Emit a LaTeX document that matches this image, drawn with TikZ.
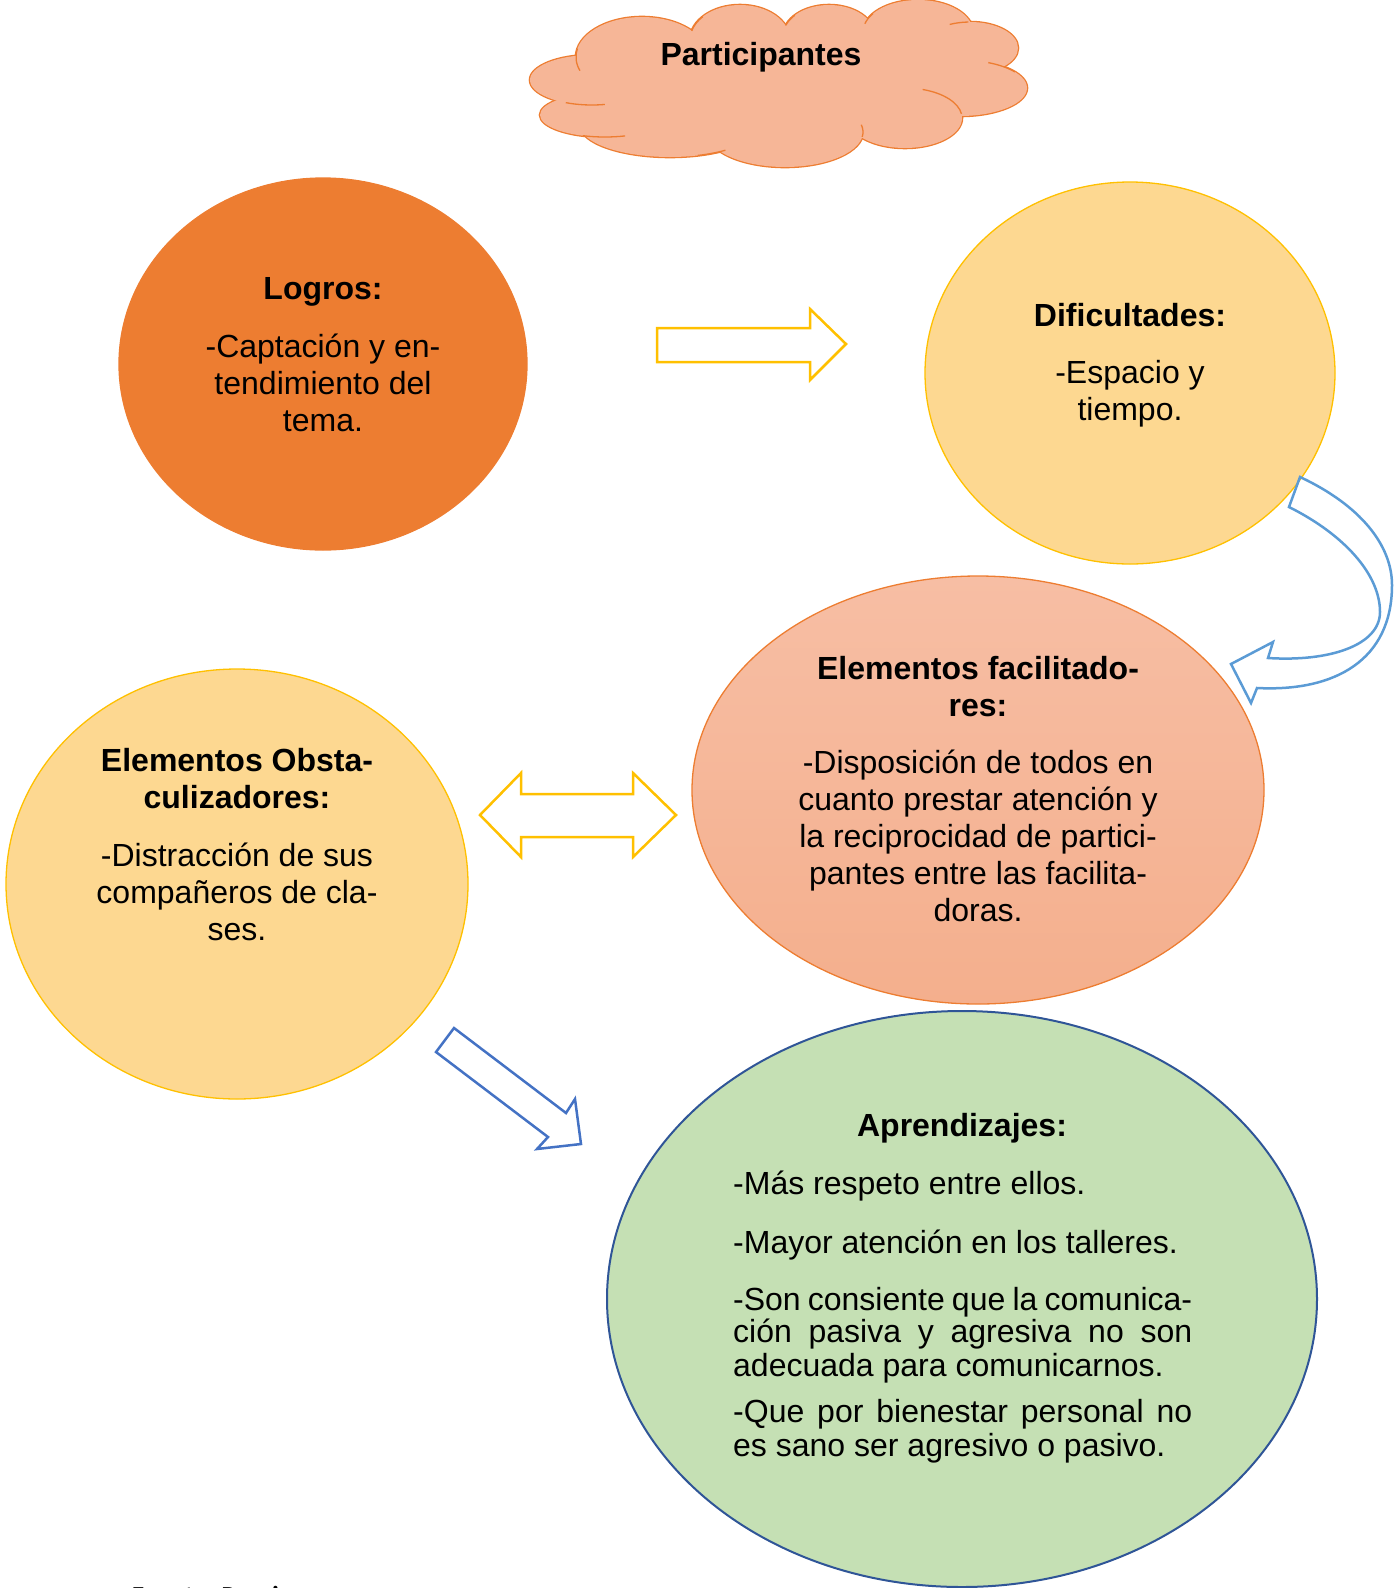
\documentclass[tikz,border=0pt]{standalone}
\usepackage{fontspec}
\setmainfont{Liberation Sans}
\newfontfamily\notefont{Carlito}
\usetikzlibrary{shapes.geometric}

\definecolor{orangeA}{HTML}{ED7D31}
\definecolor{goldLine}{HTML}{FFC000}
\definecolor{goldFill}{HTML}{FDD891}
\definecolor{salmonTop}{HTML}{F7BEA4}
\definecolor{salmonBot}{HTML}{F4AF8D}
\definecolor{cloudFill}{HTML}{F6B697}
\definecolor{greenFill}{HTML}{C5E0B4}
\definecolor{navyLine}{HTML}{2F5597}
\definecolor{blueA}{HTML}{5B9BD5}
\definecolor{blueB}{HTML}{4472C4}

\tikzset{
  bubble/.style={ellipse, inner sep=0pt, line width=1.3pt},
  txt/.style={inner sep=0pt, align=center, font=\fontsize{32}{36.8}\selectfont},
  ttl/.style={txt, font=\fontsize{32}{36.8}\selectfont\bfseries},
  lefttxt/.style={inner sep=0pt, anchor=base west, font=\fontsize{32}{33}\selectfont},
  goldarrow/.style={draw=goldLine, fill=white, line width=2.5pt, line join=miter},
  bluearrow/.style={draw=#1, line width=2.5pt, line join=miter},
  puffline/.style={draw=orangeA, line width=1.3pt},
}

\begin{document}
\begin{tikzpicture}[x=1pt, y=-1pt]
\useasboundingbox (0,0) rectangle (1394,1588);
\clip (0,0) rectangle (1394,1588);

% cloud: outlined puffs, then the same puffs filled again to hide inner lines
\foreach \cx/\cy/\rx/\ry in {592/80/62/25, 605/115/65/22, 670/125/90/32,
    785/132/78/35, 905/118/57/30, 960/88/67/28, 970/48/48/26, 918/32/55/32,
    829/36/46/31, 740/40/50/35, 642/57/66/40}
  \filldraw[fill=cloudFill, draw=orangeA, line width=2.6pt]
    (\cx,\cy) ellipse [x radius=\rx pt, y radius=\ry pt];
\foreach \cx/\cy/\rx/\ry in {592/80/62/25, 605/115/65/22, 670/125/90/32,
    785/132/78/35, 905/118/57/30, 960/88/67/28, 970/48/48/26, 918/32/55/32,
    829/36/46/31, 740/40/50/35, 642/57/66/40, 780/85/170/45}
  \fill[cloudFill] (\cx,\cy) ellipse [x radius=\rx pt, y radius=\ry pt];
% short inner arcs of the puffs
\foreach \cx/\cy/\rx/\ry/\a/\b in {905/118/57/30/72/8, 592/80/62/25/245/282,
    642/57/66/40/168/200, 740/40/50/35/138/165, 829/36/46/31/138/160,
    918/32/55/32/145/165, 970/48/48/26/92/115, 960/88/67/28/65/35,
    785/132/78/35/12/-8, 670/125/90/32/-72/-52, 605/115/65/22/250/288}
  \draw[puffline] (\cx,\cy) ++(\a:\rx pt and \ry pt)
    arc[start angle=\a, end angle=\b, x radius=\rx pt, y radius=\ry pt];
\node[ttl, anchor=base] (cloudT) at (761,65) {Participantes};

% bubbles
\node[bubble, fill=orangeA, draw=orangeA, minimum width=408pt, minimum height=372pt] (logros) at (323,364) {};
\node[bubble, fill=goldFill, draw=goldLine, minimum width=410pt, minimum height=382pt] (dific) at (1130,373) {};
\node[bubble, top color=salmonTop, bottom color=salmonBot, draw=orangeA, minimum width=572pt, minimum height=428pt] (facil) at (978,790) {};
\node[bubble, fill=goldFill, draw=goldLine, minimum width=462pt, minimum height=430pt] (obst) at (237,884) {};
\node[bubble, fill=greenFill, draw=navyLine, line width=2pt, minimum width=710pt, minimum height=576pt] (aprend) at (962,1299) {};

% texts
\node[ttl, anchor=base] (logrosT) at (323,299) {Logros:};
\node[txt, anchor=north] (logrosB) at (323,332) {\strut-Captación y en-\\tendimiento del\\tema.};

\node[ttl, anchor=base] (dificT) at (1130,326) {Dificultades:};
\node[txt, anchor=north] (dificB) at (1130,358) {\strut-Espacio y\\tiempo.};

\node[ttl, anchor=north] (facilT) at (978,654) {\strut Elementos facilitado-\\res:};
\node[txt, anchor=north] (facilB) at (978,748) {\strut-Disposición de todos en\\cuanto prestar atención y\\la reciprocidad de partici-\\pantes entre las facilita-\\doras.};

\node[ttl, anchor=north] (obstT) at (237,746) {\strut Elementos Obsta-\\culizadores:};
\node[txt, anchor=north] (obstB) at (237,841) {\strut-Distracción de sus\\compañeros de cla-\\ses.};

\node[ttl, anchor=base] (aprendT) at (962,1136) {Aprendizajes:};
\node[lefttxt] (ap1) at (733,1194) {-Más respeto entre ellos.};
\node[lefttxt] (ap2) at (733,1253) {-Mayor atención en los talleres.};
\node[lefttxt] (ap3) at (733,1310) {\makebox[459pt][s]{-Son consiente que la comunica-}};
\node[lefttxt] (ap4) at (733,1342) {\makebox[459pt][s]{ción pasiva y agresiva no son}};
\node[lefttxt] (ap5) at (733,1376) {adecuada para comunicarnos.};
\node[lefttxt] (ap6) at (733,1422) {\makebox[459pt][s]{-Que por bienestar personal no}};
\node[lefttxt] (ap7) at (733,1456) {es sano ser agresivo o pasivo.};

% block arrows
\draw[goldarrow] (657,328) -- (810,328) -- (810,309) -- (846,344) -- (810,380)
  -- (810,362) -- (657,362) -- cycle;
\draw[goldarrow] (480,815) -- (521,773) -- (521,794) -- (633,794) -- (633,773)
  -- (676,815) -- (633,857) -- (633,837) -- (521,837) -- (521,857) -- cycle;
\draw[bluearrow=blueB] (454,1028) -- (566,1113) -- (575,1099) -- (581,1144)
  -- (537,1149) -- (548,1137) -- (436,1052) -- cycle;
\draw[bluearrow=blueA] (1300,477) .. controls (1360,505) and (1392,545) .. (1392,585)
  .. controls (1392,660) and (1335,692) .. (1257,688) -- (1251,703) -- (1231,664)
  -- (1273,642) -- (1268,658) .. controls (1330,662) and (1380,645) .. (1380,612)
  .. controls (1380,575) and (1345,535) .. (1289,507) -- cycle;

% source note, cut by the lower edge
\node[inner sep=0pt, anchor=base west, font=\notefont\bfseries\fontsize{26}{30}\selectfont] (note) at (132,1604) {Fuente: Propia};
\end{tikzpicture}
\end{document}
